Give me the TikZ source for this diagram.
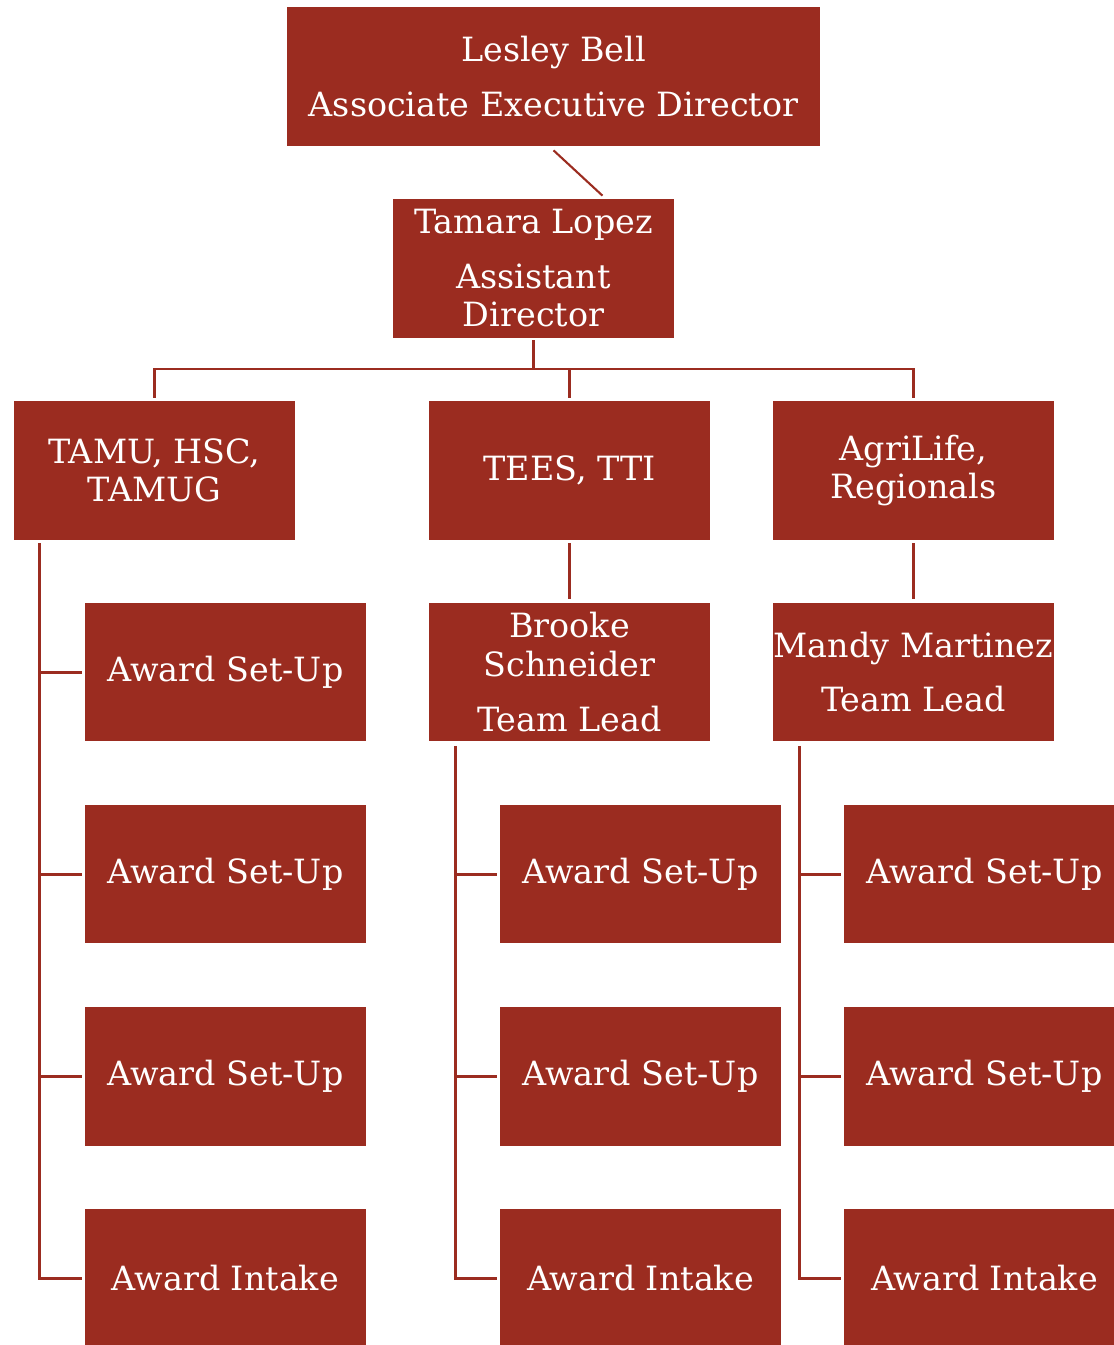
\documentclass[tikz,border=0pt]{standalone}
\usepackage{fontspec}
\setmainfont{DejaVu Serif}
\usepackage{xcolor}
\definecolor{maroon}{RGB}{155,44,32}

\tikzset{
  unit/.style = {fill = maroon, text = white, align = center, inner sep = 0pt,
                 minimum width = 5.62cm, minimum height = 2.78cm,
                 font = \fontsize{19}{22}\selectfont},
  link/.style = {draw = maroon, line width = 1.7pt}
}

\begin{document}
\begin{tikzpicture}[x = 0.02cm, y = -0.02cm]
    \useasboundingbox (0,0) rectangle (1114,1345);
    \clip (0,0) rectangle (1114,1345);

    \node[unit, minimum width = 10.66cm](lead) at (553.5,76.5) {Lesley Bell\\[9pt]Associate Executive Director};
    \node[unit](tamara) at (533.5,268.5) {Tamara Lopez\\[9pt]Assistant\\Director};

    \node[unit](tamu) at (154.5,470.5) {TAMU, HSC,\\TAMUG};
    \node[unit](tees) at (569.5,470.5) {TEES, TTI};
    \node[unit](agri) at (913.5,470.5) {AgriLife,\\Regionals};

    \node[unit](brooke) at (569.5,672) {Brooke\\Schneider\\[9pt]Team Lead};
    \node[unit](mandy) at (913.5,672) {Mandy Martinez\\[9pt]Team Lead};

    % award boxes
    \foreach \y/\t [count = \i] in {672/Award Set-Up, 874/Award Set-Up, 1076/Award Set-Up, 1278/Award Intake}
        \node[unit](tamuC\i) at (225.5,\y) {\t};
    \foreach \y/\t [count = \i] in {874/Award Set-Up, 1076/Award Set-Up, 1278/Award Intake}
        \node[unit](brookeC\i) at (640.5,\y) {\t};
    \foreach \y/\t [count = \i] in {874/Award Set-Up, 1076/Award Set-Up, 1278/Award Intake}
        \node[unit](mandyC\i) at (984.5,\y) {\t};

    % upper links
    \draw [link, line width = 1.2pt] ([yshift = -0.08cm]lead.south) -- ([xshift = 1.38cm, yshift = 0.06cm]tamara.north);
    \coordinate (bus) at (533.5,369);
    \draw [link] ([yshift = -0.04cm]tamara.south) -- (bus);
    \draw [link] ([yshift = 0.06cm]tamu.north) |- (bus) -| ([yshift = 0.06cm]agri.north);
    \draw [link] ([yshift = 0.06cm]tees.north) -- (tees.north |- bus);
    \draw [link] ([yshift = -0.06cm]tees.south) -- ([yshift = 0.06cm]brooke.north);
    \draw [link] ([yshift = -0.06cm]agri.south) -- ([yshift = 0.06cm]mandy.north);

    % spines
    \coordinate (tamuSpine) at ([xshift = 0.52cm, yshift = -0.06cm]tamu.south west);
    \draw [link] (tamuSpine) |- ([xshift = -0.06cm]tamuC4.west);
    \foreach \i in {1,2,3}
        \draw [link] (tamuC\i.west -| tamuSpine) -- ([xshift = -0.06cm]tamuC\i.west);

    \coordinate (brookeSpine) at ([xshift = 0.54cm, yshift = -0.08cm]brooke.south west);
    \draw [link] (brookeSpine) |- ([xshift = -0.06cm]brookeC3.west);
    \foreach \i in {1,2}
        \draw [link] (brookeC\i.west -| brookeSpine) -- ([xshift = -0.06cm]brookeC\i.west);

    \coordinate (mandySpine) at ([xshift = 0.54cm, yshift = -0.08cm]mandy.south west);
    \draw [link] (mandySpine) |- ([xshift = -0.06cm]mandyC3.west);
    \foreach \i in {1,2}
        \draw [link] (mandyC\i.west -| mandySpine) -- ([xshift = -0.06cm]mandyC\i.west);
\end{tikzpicture}
\end{document}
